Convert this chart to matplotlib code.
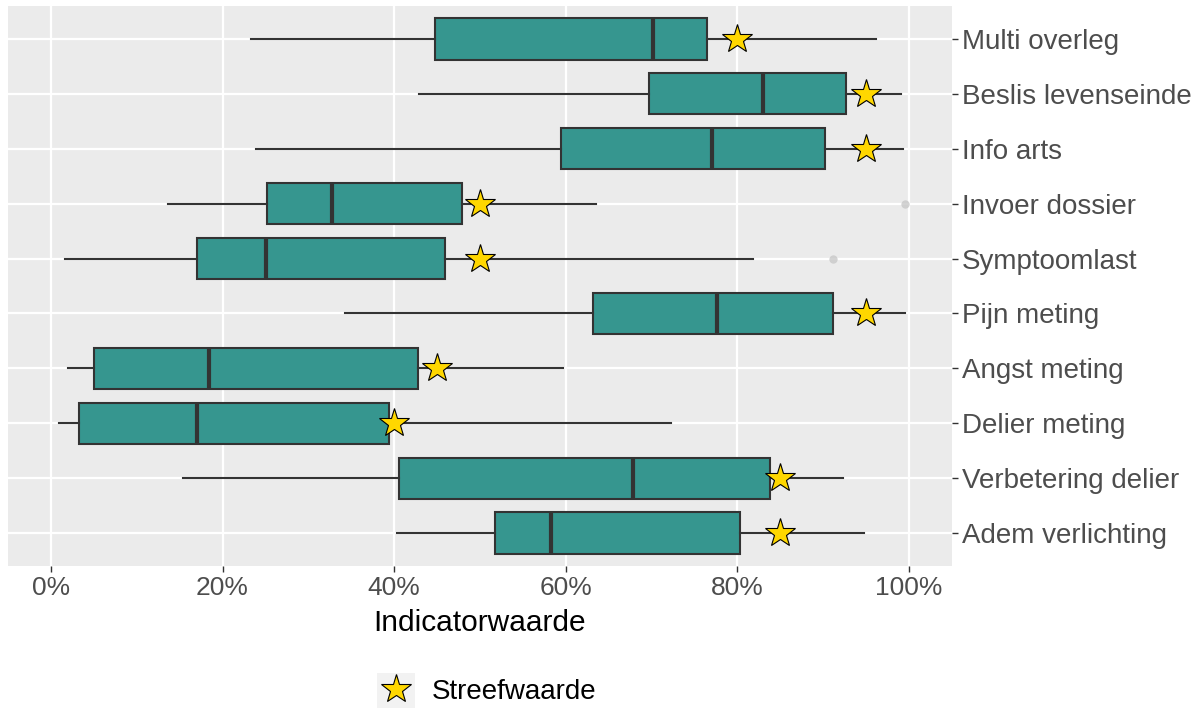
import matplotlib
matplotlib.use("Agg")
from matplotlib import pyplot as plt
from matplotlib.lines import Line2D
from matplotlib.patches import Rectangle
from matplotlib.ticker import PercentFormatter

plt.rcParams['font.family'] = ['Liberation Sans', 'DejaVu Sans']

# indicators, top to bottom
categories = ['Multi overleg', 'Beslis levenseinde', 'Info arts', 'Invoer dossier',
              'Symptoomlast', 'Pijn meting', 'Angst meting', 'Delier meting',
              'Verbetering delier', 'Adem verlichting']
whis_lo = [0.233, 0.429, 0.239, 0.136, 0.017, 0.343, 0.020, 0.010, 0.154, 0.403]
q1 = [0.448, 0.697, 0.594, 0.252, 0.170, 0.632, 0.050, 0.033, 0.406, 0.517]
median = [0.702, 0.830, 0.770, 0.328, 0.251, 0.776, 0.184, 0.170, 0.678, 0.583]
q3 = [0.765, 0.927, 0.902, 0.479, 0.459, 0.911, 0.428, 0.394, 0.838, 0.803]
whis_hi = [0.962, 0.990, 0.993, 0.635, 0.818, 0.995, 0.597, 0.723, 0.923, 0.948]
outliers = [[], [], [], [0.995], [0.911], [], [], [], [], []]
target = [0.80, 0.95, 0.95, 0.50, 0.50, 0.95, 0.45, 0.40, 0.85, 0.85]

fig = plt.figure(figsize=(11.97, 7.08), dpi=100)
ax = fig.add_axes([8 / 1197, 1 - 566 / 708, 944 / 1197, 560 / 708])
ax.set_facecolor('#EBEBEB')
for s in ax.spines.values():
    s.set_visible(False)

n = len(categories)
pos = list(range(n, 0, -1))
stats = []
for i in range(n):
    stats.append(dict(whislo=whis_lo[i], q1=q1[i], med=median[i], q3=q3[i],
                      whishi=whis_hi[i], fliers=outliers[i]))

ax.bxp(stats, positions=pos, vert=False, widths=0.75, patch_artist=True,
       showcaps=False,
       boxprops=dict(facecolor='#36968F', edgecolor='#333333', linewidth=1.5),
       medianprops=dict(color='#333333', linewidth=3),
       whiskerprops=dict(color='#333333', linewidth=1.5),
       flierprops=dict(marker='o', markersize=6, markerfacecolor='#C8C8C8',
                       markeredgecolor='none', alpha=0.8),
       zorder=3)

ax.plot(target, pos, linestyle='none', marker='*', markersize=22,
        markerfacecolor='#FFD700', markeredgecolor='black', markeredgewidth=0.8,
        zorder=4)

ax.set_xlim(-0.05, 1.05)
ax.set_ylim(0.4, n + 0.6)
ax.set_xticks([0, 0.2, 0.4, 0.6, 0.8, 1.0])
ax.xaxis.set_major_formatter(PercentFormatter(1.0, decimals=0))
ax.set_yticks(pos)
ax.set_yticklabels(categories)
ax.yaxis.tick_right()
ax.grid(True, color='white', linewidth=1.6, zorder=0)
ax.set_axisbelow(True)
ax.tick_params(axis='both', length=4, width=1, color='#333333',
               labelcolor='#4D4D4D', labelsize=19, pad=3)
ax.tick_params(axis='y', labelsize=20)
ax.set_xlabel('Indicatorwaarde', fontsize=21.5, color='black', labelpad=7)

# legend with grey key background
fig.patches.append(Rectangle((377 / 1197, 0), 38 / 1197, 35 / 708,
                             transform=fig.transFigure, facecolor='#F2F2F2',
                             edgecolor='none'))
star = Line2D([], [], linestyle='none', marker='*', markersize=22,
              markerfacecolor='#FFD700', markeredgecolor='black',
              markeredgewidth=0.8)
fig.legend([star], ['Streefwaarde'], loc='center left',
           bbox_to_anchor=(377 / 1197, 1 - 692 / 708), frameon=False,
           borderpad=0, borderaxespad=0, fontsize=20, handlelength=1.35,
           handletextpad=0.62)

fig.savefig('out.png', dpi=100)
